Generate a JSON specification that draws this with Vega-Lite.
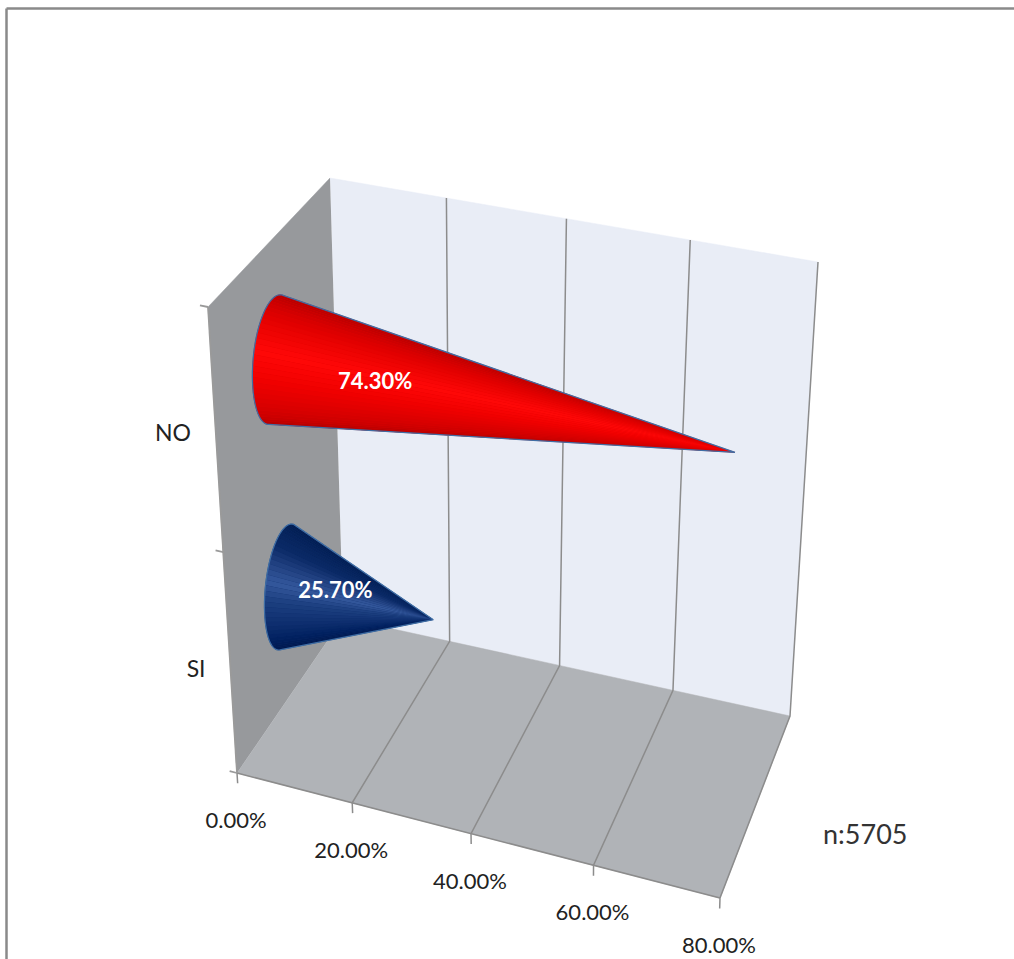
{
  "$schema": "https://vega.github.io/schema/vega-lite/v6.json",
  "width": 1008,
  "height": 951,
  "padding": {"left": 6, "top": 8, "right": 0, "bottom": 0},
  "autosize": "none",
  "background": "#ffffff",
  "view": {"stroke": null},
  "title": {
    "text": "n:5705",
    "anchor": "start",
    "frame": "group",
    "dx": 817,
    "dy": 846,
    "font": "Lato",
    "fontSize": 27,
    "fontWeight": "normal",
    "color": "#333333"
  },
  "datasets": {
    "cones": [
      {"series": "NO", "share": 0.743, "level": 0.742,
       "rim": [32,27,22,17,12,7,2,-3,-8,-13,-18,-23,-28,-33,-38,-43,-48,-53,-58,-63,-68,-73,-78,-83,-88,-93,-98,-103,-108,-113,-118,-123,-128,-133,-138,-143,-148,-153],
       "corner": [0,1,2]},
      {"series": "SI", "share": 0.257, "level": 0.24,
       "rim": [32,27,22,17,12,7,2,-3,-8,-13,-18,-23,-28,-33,-38,-43,-48,-53,-58,-63,-68,-73,-78,-83,-88,-93,-98,-103,-108,-113,-118,-123,-128,-133,-138,-143,-148,-153],
       "corner": [0,1,2]}
    ],
    "box": [
      {"part": "back", "seq": 0, "share": 0, "level": 1, "depth": 1},
      {"part": "back", "seq": 1, "share": 0.8, "level": 1, "depth": 1},
      {"part": "back", "seq": 2, "share": 0.8, "level": 0, "depth": 1},
      {"part": "back", "seq": 3, "share": 0, "level": 0, "depth": 1},
      {"part": "side", "seq": 0, "share": 0, "level": 1, "depth": 1},
      {"part": "side", "seq": 1, "share": 0, "level": 1, "depth": 0},
      {"part": "side", "seq": 2, "share": 0, "level": 0, "depth": 0},
      {"part": "side", "seq": 3, "share": 0, "level": 0, "depth": 1},
      {"part": "floor", "seq": 0, "share": 0, "level": 0, "depth": 0},
      {"part": "floor", "seq": 1, "share": 0.8, "level": 0, "depth": 0},
      {"part": "floor", "seq": 2, "share": 0.8, "level": 0, "depth": 1},
      {"part": "floor", "seq": 3, "share": 0, "level": 0, "depth": 1},

      {"part": "edge-front", "seq": 0, "share": 0, "level": 0, "depth": 0},
      {"part": "edge-front", "seq": 1, "share": 0.8, "level": 0, "depth": 0},
      {"part": "edge-left", "seq": 0, "share": 0, "level": 1, "depth": 0},
      {"part": "edge-left", "seq": 1, "share": 0, "level": 0, "depth": 0},

      {"part": "grid-20", "seq": 0, "share": 0.2, "level": 1, "depth": 1},
      {"part": "grid-20", "seq": 1, "share": 0.2, "level": 0, "depth": 1},
      {"part": "grid-20", "seq": 2, "share": 0.2, "level": 0, "depth": 0},
      {"part": "grid-20", "seq": 3, "share": 0.2, "level": -0.022, "depth": 0},
      {"part": "grid-40", "seq": 0, "share": 0.4, "level": 1, "depth": 1},
      {"part": "grid-40", "seq": 1, "share": 0.4, "level": 0, "depth": 1},
      {"part": "grid-40", "seq": 2, "share": 0.4, "level": 0, "depth": 0},
      {"part": "grid-40", "seq": 3, "share": 0.4, "level": -0.022, "depth": 0},
      {"part": "grid-60", "seq": 0, "share": 0.6, "level": 1, "depth": 1},
      {"part": "grid-60", "seq": 1, "share": 0.6, "level": 0, "depth": 1},
      {"part": "grid-60", "seq": 2, "share": 0.6, "level": 0, "depth": 0},
      {"part": "grid-60", "seq": 3, "share": 0.6, "level": -0.022, "depth": 0},
      {"part": "grid-80", "seq": 0, "share": 0.8, "level": 1, "depth": 1},
      {"part": "grid-80", "seq": 1, "share": 0.8, "level": 0, "depth": 1},
      {"part": "grid-80", "seq": 2, "share": 0.8, "level": 0, "depth": 0},
      {"part": "grid-80", "seq": 3, "share": 0.8, "level": -0.022, "depth": 0},
      {"part": "tick-0", "seq": 0, "share": 0, "level": 0, "depth": 0},
      {"part": "tick-0", "seq": 1, "share": 0, "level": -0.022, "depth": 0},

      {"part": "cat-tick-a", "seq": 0, "share": 0, "level": 1, "depth": 0},
      {"part": "cat-tick-a", "seq": 1, "share": -0.013, "level": 1, "depth": 0},
      {"part": "cat-tick-b", "seq": 0, "share": 0, "level": 0.474, "depth": 0},
      {"part": "cat-tick-b", "seq": 1, "share": -0.013, "level": 0.474, "depth": 0},
      {"part": "cat-tick-c", "seq": 0, "share": 0, "level": 0, "depth": 0},
      {"part": "cat-tick-c", "seq": 1, "share": -0.013, "level": 0, "depth": 0},

      {"part": "share-label", "seq": 0, "share": 0, "level": 0, "depth": 0},
      {"part": "share-label", "seq": 0, "share": 0.2, "level": 0, "depth": 0},
      {"part": "share-label", "seq": 0, "share": 0.4, "level": 0, "depth": 0},
      {"part": "share-label", "seq": 0, "share": 0.6, "level": 0, "depth": 0},
      {"part": "share-label", "seq": 0, "share": 0.8, "level": 0, "depth": 0},

      {"part": "cat-label", "seq": 0, "share": 0, "level": 0.727, "depth": 0, "name": "NO"},
      {"part": "cat-label", "seq": 0, "share": 0, "level": 0.222, "depth": 0, "name": "SI"}
    ]
  },
  "encoding": {
    "x": {
      "field": "px", "type": "quantitative",
      "scale": {"domain": [6, 1014], "nice": false, "zero": false},
      "axis": {"orient": "top", "title": null, "labels": false, "ticks": false, "grid": false, "domainColor": "#8a8a8a", "domainWidth": 2.5}
    },
    "y": {
      "field": "py", "type": "quantitative",
      "scale": {"domain": [959, 8], "nice": false, "zero": false},
      "axis": {"orient": "left", "title": null, "labels": false, "ticks": false, "grid": false, "domainColor": "#8a8a8a", "domainWidth": 2.5}
    },
    "order": {"field": "seq", "type": "quantitative"}
  },
  "layer": [
    {
      "data": {"name": "box"},
      "transform": [
        {"calculate": "datum.share / 0.8", "as": "s"},
        {"calculate": "datum.s / (datum.s + (1 - datum.s) * 1.064)", "as": "u"},
        {"calculate": "datum.level", "as": "v"},
        {"calculate": "datum.depth", "as": "w"},
        {"calculate": "(1-datum.v)*((1-datum.w)*((1-datum.u)*237+datum.u*720)+datum.w*((1-datum.u)*343+datum.u*790))+datum.v*((1-datum.w)*((1-datum.u)*208+datum.u*735)+datum.w*((1-datum.u)*330+datum.u*818))", "as": "px"},
        {"calculate": "(1-datum.v)*((1-datum.w)*((1-datum.u)*773+datum.u*898)+datum.w*((1-datum.u)*618+datum.u*716))+datum.v*((1-datum.w)*((1-datum.u)*307+datum.u*418)+datum.w*((1-datum.u)*178+datum.u*262))", "as": "py"}
      ],
      "layer": [
        {"transform": [{"filter": "datum.part == 'back'"}], "mark": {"type": "line", "fill": "#e9edf6", "stroke": "#e9edf6", "strokeWidth": 0.5}},
        {"transform": [{"filter": "datum.part == 'side'"}], "mark": {"type": "line", "fill": "#97999c", "stroke": "#97999c", "strokeWidth": 0.5}},
        {"transform": [{"filter": "datum.part == 'floor'"}], "mark": {"type": "line", "fill": "#b0b3b7", "stroke": "#b0b3b7", "strokeWidth": 0.5}},
        {
          "transform": [{"filter": "test(/^(grid|tick|edge-front)/, datum.part)"}],
          "mark": {"type": "line", "stroke": "#8c8c8c", "strokeWidth": 1.5},
          "encoding": {"detail": {"field": "part"}}
        },
        {
          "transform": [{"filter": "test(/^(cat-tick|edge-left)/, datum.part)"}],
          "mark": {"type": "line", "stroke": "#9a9a9a", "strokeWidth": 1.8},
          "encoding": {"detail": {"field": "part"}}
        },
        {
          "transform": [{"filter": "datum.part == 'share-label'"}],
          "mark": {"type": "text", "font": "Lato", "fontSize": 22, "fill": "#222222", "dy": 48, "dx": -1, "align": "center", "baseline": "middle"},
          "encoding": {"text": {"field": "share", "type": "quantitative", "format": ".2%"}}
        },
        {
          "transform": [{"filter": "datum.part == 'cat-label'"}],
          "mark": {"type": "text", "font": "Lato", "fontSize": 23, "fill": "#222222", "dx": -25, "align": "right", "baseline": "middle"},
          "encoding": {"text": {"field": "name", "type": "nominal"}}
        }
      ]
    },
    {
      "data": {"name": "cones"},
      "transform": [
        {"flatten": ["rim"]},
        {"flatten": ["corner"]},
        {"calculate": "datum.corner == 0 ? datum.share / 0.8 : 0", "as": "s"},
        {"calculate": "datum.s / (datum.s + (1 - datum.s) * 1.064)", "as": "u"},
        {"calculate": "PI * (datum.corner == 2 ? datum.rim - 5 : datum.rim) / 180", "as": "a"},
        {"calculate": "datum.corner == 0 ? datum.level - 0.006 : datum.level + (0.1217 + 0.0139 * datum.level) * cos(datum.a)", "as": "v"},
        {"calculate": "datum.corner == 0 ? 0.52 : 0.5 + 0.185 * sin(datum.a)", "as": "w"},
        {"calculate": "(1-datum.v)*((1-datum.w)*((1-datum.u)*237+datum.u*720)+datum.w*((1-datum.u)*343+datum.u*790))+datum.v*((1-datum.w)*((1-datum.u)*208+datum.u*735)+datum.w*((1-datum.u)*330+datum.u*818))", "as": "px"},
        {"calculate": "(1-datum.v)*((1-datum.w)*((1-datum.u)*773+datum.u*898)+datum.w*((1-datum.u)*618+datum.u*716))+datum.v*((1-datum.w)*((1-datum.u)*307+datum.u*418)+datum.w*((1-datum.u)*178+datum.u*262))", "as": "py"},
        {"calculate": "(22 - (datum.rim - 2.5)) / 180 + (datum.series == 'SI' ? 2 : 0)", "as": "shade"},
        {"calculate": "datum.series + datum.rim", "as": "facet"},
        {"calculate": "datum.corner == 0 ? (datum.rim == 32 ? -1000 : 1000) : (datum.corner == 2 ? 5 - datum.rim : -datum.rim)", "as": "seq"}
      ],
      "layer": [
        {
          "transform": [{"filter": "datum.series == 'NO' && (datum.corner == 1 || (datum.rim == 32 && datum.corner == 0) || (datum.rim == -153 && datum.corner != 1))"}],
          "mark": {"type": "line", "fill": "#e40000", "stroke": "#e40000", "strokeWidth": 0.5}
        },
        {
          "transform": [{"filter": "datum.series == 'SI' && (datum.corner == 1 || (datum.rim == 32 && datum.corner == 0) || (datum.rim == -153 && datum.corner != 1))"}],
          "mark": {"type": "line", "fill": "#0f2f6e", "stroke": "#0f2f6e", "strokeWidth": 0.5}
        },
        {
          "mark": {"type": "line", "strokeWidth": 0},
          "encoding": {
            "detail": {"field": "facet"},
            "order": {"field": "corner", "type": "quantitative"},
            "fill": {
              "field": "shade", "type": "quantitative", "legend": null,
              "scale": {
                "domain": [-0.1, 0.25, 0.45, 0.6, 0.85, 1, 1.9, 2.25, 2.45, 2.55, 2.8, 3],
                "range": ["#9c0000", "#e00000", "#ff0808", "#f00000", "#c80000", "#980000", "#00184a", "#0a2a66", "#34589c", "#1c3f80", "#00205f", "#001546"]
              }
            }
          }
        },
        {
          "transform": [{"filter": "datum.corner == 1 || (datum.rim == 32 && datum.corner == 0) || (datum.rim == -153 && datum.corner != 1)"}],
          "mark": {"type": "line", "stroke": "#3f6ea5", "strokeWidth": 1.2},
          "encoding": {"detail": {"field": "series"}}
        }
      ]
    },
    {
      "data": {"name": "cones"},
      "transform": [
        {"calculate": "(0.0476 + 0.165 * datum.share) / 0.8", "as": "s"},
        {"calculate": "datum.s / (datum.s + (1 - datum.s) * 1.064)", "as": "u"},
        {"calculate": "datum.level + 0.025 - 0.04 * datum.level", "as": "v"},
        {"calculate": "0.5", "as": "w"},
        {"calculate": "(1-datum.v)*((1-datum.w)*((1-datum.u)*237+datum.u*720)+datum.w*((1-datum.u)*343+datum.u*790))+datum.v*((1-datum.w)*((1-datum.u)*208+datum.u*735)+datum.w*((1-datum.u)*330+datum.u*818))", "as": "px"},
        {"calculate": "(1-datum.v)*((1-datum.w)*((1-datum.u)*773+datum.u*898)+datum.w*((1-datum.u)*618+datum.u*716))+datum.v*((1-datum.w)*((1-datum.u)*307+datum.u*418)+datum.w*((1-datum.u)*178+datum.u*262))", "as": "py"}
      ],
      "mark": {"type": "text", "font": "Lato", "fontSize": 22, "fontWeight": "bold", "fill": "#ffffff", "align": "center", "baseline": "middle"},
      "encoding": {
        "order": null,
        "text": {"field": "share", "type": "quantitative", "format": ".2%"}
      }
    }
  ]
}
